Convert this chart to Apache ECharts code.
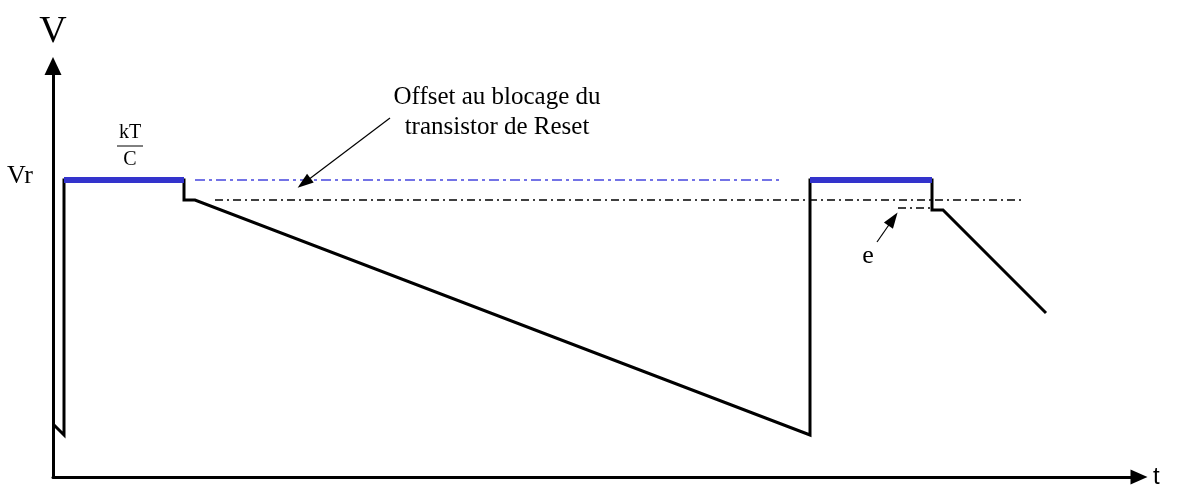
<!DOCTYPE html>
<html>
<head>
<meta charset="utf-8">
<script src="https://cdn.jsdelivr.net/npm/echarts@6/dist/echarts.min.js"></script>
<style>
  html, body { margin: 0; padding: 0; background: #fff; }
  #chart { width: 1183px; height: 491px; }
</style>
</head>
<body>
<div id="chart"></div>
<script>
// Waveform (time units, voltage units; origin at the axes corner)
const signalT = [1, 11, 11, 131, 131, 142, 757, 757, 879, 879, 890, 993];
const signalV = [52, 42, 297, 297, 277, 277, 42, 297, 297, 267, 267, 164];

// kT/C hold phases at Vr
const holdStart = [11, 757];
const holdEnd = [131, 879];
const vr = 297;

// reference levels
const offsetLevel = 277;
const eLevel = 269;
const vrRefT = [142, 727];
const offsetRefT = [162, 972];
const eRefT = [845, 877];

// annotation arrows [fromT, fromV, toT, toV]
const offsetArrow = [337, 359, 251, 294];
const eArrow = [824, 235, 840, 258];

const chart = echarts.init(document.getElementById("chart"), null, { renderer: "canvas" });

const serif = "Liberation Serif";

function seg(t, v, style) {
  return {
    type: "line",
    data: [[t[0], v], [t[1], v]],
    symbol: "none",
    silent: true,
    lineStyle: style,
  };
}

const series = [
  {
    type: "line",
    data: signalT.map((t, i) => [t, signalV[i]]),
    symbol: "none",
    silent: true,
    lineStyle: { color: "#000", width: 3, join: "miter" },
    z: 3,
  },
];

holdStart.forEach((t, i) => {
  const s = seg([t, holdEnd[i]], vr, { color: "#3333cc", width: 6, cap: "butt" });
  s.z = 4;
  series.push(s);
});

series.push(seg(vrRefT, vr, { color: "#7373e6", width: 2, type: [10, 4, 3, 4] }));
series.push(seg(offsetRefT, offsetLevel, { color: "#000", width: 1.4, type: [8, 4, 2, 4] }));
series.push(seg(eRefT, eLevel, { color: "#000", width: 1.4, type: [8, 4, 2, 4] }));

series.push({
  type: "line",
  data: [],
  silent: true,
  markLine: {
    silent: true,
    symbol: ["none", "triangle"],
    symbolSize: [11, 16],
    label: { show: false },
    lineStyle: { color: "#000", width: 1.2, type: "solid" },
    data: [
      [{ coord: [offsetArrow[0], offsetArrow[1]] }, { coord: [offsetArrow[2], offsetArrow[3]] }],
      [{ coord: [eArrow[0], eArrow[1]] }, { coord: [eArrow[2], eArrow[3]] }],
    ],
  },
});

const option = {
  animation: false,
  grid: { left: 53, right: 44, top: 66, bottom: 14 },
  xAxis: {
    type: "value",
    min: 0,
    max: 1086,
    name: "t",
    nameGap: 14,
    nameTextStyle: { fontFamily: "Liberation Sans", fontSize: 24, color: "#000" },
    axisLine: { show: true, lineStyle: { color: "#000", width: 3 }, symbol: ["none", "triangle"], symbolSize: [15, 17] },
    axisTick: { show: false },
    axisLabel: { show: false },
    splitLine: { show: false },
  },
  yAxis: {
    type: "value",
    min: 0,
    max: 411,
    name: "V",
    nameGap: 15,
    nameTextStyle: { fontFamily: serif, fontSize: 38, color: "#000" },
    axisLine: { show: true, lineStyle: { color: "#000", width: 3 }, symbol: ["none", "triangle"], symbolSize: [17, 18] },
    axisTick: { show: false },
    axisLabel: { show: false },
    splitLine: { show: false },
  },
  series: series,
  graphic: [
    { type: "text", left: 7, top: 163, style: { text: "Vr", font: "26px " + serif, fill: "#000" } },
    { type: "text", x: 130, y: 133, style: { text: "kT", font: "20px " + serif, fill: "#000", align: "center", verticalAlign: "middle" } },
    { type: "line", shape: { x1: 117, y1: 146, x2: 143, y2: 146 }, style: { stroke: "#000", lineWidth: 1 } },
    { type: "text", x: 130, y: 160, style: { text: "C", font: "20px " + serif, fill: "#000", align: "center", verticalAlign: "middle" } },
    { type: "text", x: 497, y: 112, style: { text: "Offset au blocage du\ntransistor de Reset", font: "25px " + serif, lineHeight: 30, fill: "#000", align: "center", verticalAlign: "middle" } },
    { type: "text", x: 868, y: 256, style: { text: "e", font: "26px " + serif, fill: "#000", align: "center", verticalAlign: "middle" } },
  ],
};

chart.setOption(option);
</script>
</body>
</html>
